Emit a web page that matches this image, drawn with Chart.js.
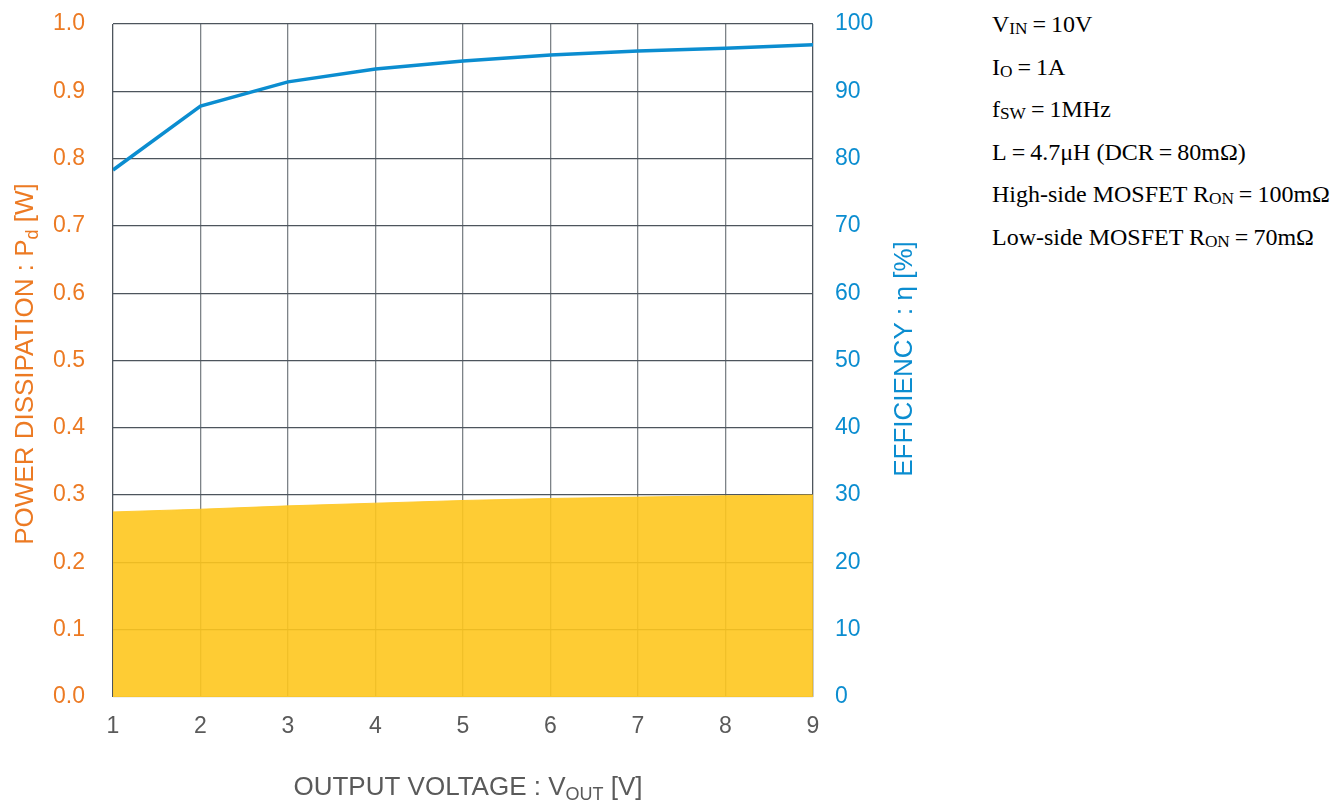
<!DOCTYPE html>
<html><head><meta charset="utf-8">
<script src="https://cdn.jsdelivr.net/npm/chart.js@4.4.1/dist/chart.umd.min.js"></script>
<style>
html,body{margin:0;padding:0;background:#fff;width:1333px;height:805px;overflow:hidden;}
#wrap{position:absolute;left:0;top:0;width:960px;height:805px;}
.note{position:absolute;left:992px;font-family:"Liberation Serif","Times New Roman",serif;font-size:24px;color:#000;white-space:nowrap;line-height:1;}
.note sub{font-size:0.72em;vertical-align:-0.1em;}
.eq{padding:0 5px;}
</style></head>
<body>
<div id="wrap"><canvas id="c" width="960" height="805"></canvas></div>
<div class="note" style="top:12px">V<sub>IN</sub><span class="eq">=</span>10V</div>
<div class="note" style="top:55px">I<sub>O</sub><span class="eq">=</span>1A</div>
<div class="note" style="top:97px">f<sub>SW</sub><span class="eq">=</span>1MHz</div>
<div class="note" style="top:140px">L<span class="eq">=</span>4.7μH (DCR<span class="eq">=</span>80mΩ)</div>
<div class="note" style="top:182px">High-side MOSFET R<sub>ON</sub><span class="eq">=</span>100mΩ</div>
<div class="note" style="top:225px">Low-side MOSFET R<sub>ON</sub><span class="eq">=</span>70mΩ</div>
<script>
const vout = [1, 2, 3, 4, 5, 6, 7, 8, 9];
const powerW = [0.275, 0.279, 0.284, 0.288, 0.292, 0.295, 0.297, 0.299, 0.300];
const efficiency = [78.3, 87.8, 91.4, 93.3, 94.5, 95.4, 96.0, 96.4, 96.9];

const ORANGE = '#EC7A23';
const BLUE = '#0B8DD0';
const GRAY = '#5a5a5a';
const FAMILY = '"Liberation Sans", Arial, sans-serif';

const titlePlugin = {
  id: 'titles',
  afterDraw(chart) {
    const ctx = chart.ctx;
    const font = '26px ' + FAMILY;
    const subFont = '18px ' + FAMILY;
    function drawParts(parts, cx, cy, color, rot) {
      ctx.save();
      ctx.translate(cx, cy);
      ctx.rotate(rot);
      ctx.fillStyle = color;
      ctx.textBaseline = 'middle';
      ctx.textAlign = 'left';
      let w = 0;
      parts.forEach(p => { ctx.font = p.sub ? subFont : font; w += ctx.measureText(p.t).width; });
      let x = -w / 2;
      parts.forEach(p => {
        ctx.font = p.sub ? subFont : font;
        ctx.fillText(p.t, x, p.sub ? 7 : 0);
        x += ctx.measureText(p.t).width;
      });
      ctx.restore();
    }
    drawParts([{t:'POWER DISSIPATION : P'},{t:'d',sub:true},{t:' [W]'}], 26, 364, ORANGE, -Math.PI/2);
    drawParts([{t:'EFFICIENCY : η [%]'}], 905, 359, BLUE, -Math.PI/2);
    drawParts([{t:'OUTPUT VOLTAGE : V'},{t:'OUT',sub:true},{t:' [V]'}], 468, 788, GRAY, 0);
  }
};

function fixV(width) {
  return function (s) { s.width = width; s.paddingTop = 0; s.paddingBottom = 0; };
}

new Chart(document.getElementById('c'), {
  type: 'line',
  data: {
    labels: vout,
    datasets: [
      {
        label: 'Efficiency',
        data: vout.map((v, i) => ({x: v, y: efficiency[i]})),
        yAxisID: 'y2',
        borderColor: BLUE,
        borderWidth: 3.5,
        pointRadius: 0,
        tension: 0,
        fill: false,
        order: 0
      },
      {
        label: 'Power dissipation',
        data: vout.map((v, i) => ({x: v, y: powerW[i]})),
        yAxisID: 'y',
        borderColor: 'rgba(254,200,40,0.9)',
        borderWidth: 1,
        backgroundColor: 'rgba(254,199,30,0.9)',
        pointRadius: 0,
        tension: 0,
        fill: 'origin',
        order: 1
      }
    ]
  },
  options: {
    responsive: false,
    animation: false,
    layout: { padding: { top: 24, left: 0, right: 0, bottom: 0 } },
    plugins: { legend: { display: false }, tooltip: { enabled: false } },
    scales: {
      x: {
        type: 'linear', min: 1, max: 9,
        ticks: { stepSize: 1, color: GRAY, padding: 16, font: { size: 23, family: FAMILY } },
        grid: { color: (c) => (c.tick && (c.tick.value === 1 || c.tick.value === 9)) ? '#4d555d' : '#7d8388', lineWidth: 1.3, drawTicks: false },
        border: { display: false },
        afterFit(s) { s.height = 108; s.paddingLeft = 0; s.paddingRight = 0; }
      },
      y: {
        position: 'left', min: 0, max: 1,
        ticks: { stepSize: 0.1, color: ORANGE, padding: 28, font: { size: 23, family: FAMILY }, callback: v => v.toFixed(1) },
        grid: { color: (c) => (c.tick && c.tick.value === 0) ? '#c4c4c4' : '#4d555d', lineWidth: 1.3, drawTicks: false },
        border: { display: false },
        afterFit: fixV(113)
      },
      y2: {
        position: 'right', min: 0, max: 100,
        ticks: { stepSize: 10, color: BLUE, padding: 22, font: { size: 23, family: FAMILY } },
        grid: { display: false, drawTicks: false },
        border: { display: false },
        afterFit: fixV(147)
      }
    }
  },
  plugins: [titlePlugin]
});
</script>
</body></html>
